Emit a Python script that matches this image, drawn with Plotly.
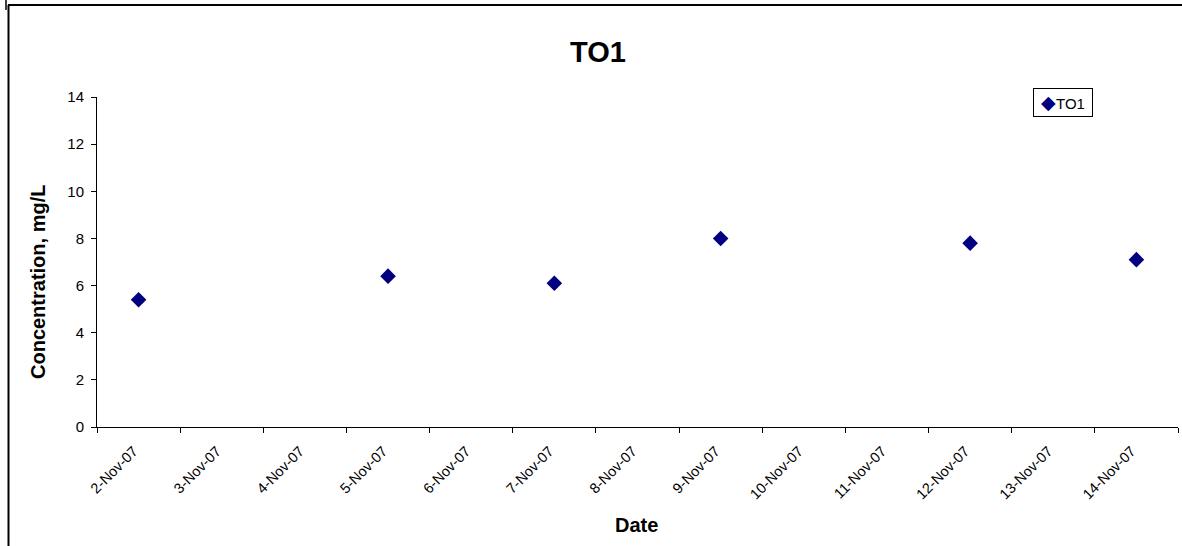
import plotly.graph_objects as go

categories = ["2-Nov-07", "3-Nov-07", "4-Nov-07", "5-Nov-07", "6-Nov-07", "7-Nov-07",
              "8-Nov-07", "9-Nov-07", "10-Nov-07", "11-Nov-07", "12-Nov-07",
              "13-Nov-07", "14-Nov-07"]
sample_dates = ["2-Nov-07", "5-Nov-07", "7-Nov-07", "9-Nov-07", "12-Nov-07", "14-Nov-07"]
to1_values = [5.4, 6.4, 6.1, 8.0, 7.8, 7.1]
y_ticks = [0, 2, 4, 6, 8, 10, 12, 14]

FONT = "Liberation Sans, Arial, sans-serif"
W, H = 1182, 546
L, R, T, B = 97, 1178, 97, 427

def px(x):
    return (x - L) / (R - L)

def py(y):
    return (B - y) / (B - T)

fig = go.Figure()
fig.add_trace(go.Scatter(
    x=sample_dates, y=to1_values, mode="markers", name="TO1",
    marker=dict(symbol="diamond", size=12, color="#000080",
                line=dict(width=0)),
    showlegend=False,
))

fig.update_layout(
    width=W, height=H,
    margin=dict(l=L, r=W - R, t=T, b=H - B, pad=0),
    paper_bgcolor="white", plot_bgcolor="white",
    font=dict(family=FONT, color="black", size=14),
    showlegend=False,
    xaxis=dict(type="category", categoryorder="array", categoryarray=categories,
               range=[-0.5, 12.5], tickson="boundaries", ticks="outside",
               ticklen=5, tickcolor="black", tickwidth=1,
               showline=True, linecolor="black", linewidth=1,
               showgrid=False, zeroline=False, tickangle=-45,
               ticklabelstandoff=9, ticklabelshift=-5,
               tickfont=dict(size=14.5, family=FONT, color="black")),
    yaxis=dict(range=[0, 14], tickvals=y_ticks, ticks="outside", ticklen=5,
               tickcolor="black", tickwidth=1, showline=True,
               linecolor="black", linewidth=1, showgrid=False,
               zeroline=False, ticklabelstandoff=4,
               tickfont=dict(size=15, family=FONT, color="black")),
    annotations=[
        dict(text="<b>TO1</b>", x=px(598), y=py(52), xref="paper", yref="paper",
             showarrow=False, font=dict(size=29, family=FONT),
             xanchor="center", yanchor="middle"),
        dict(text="<b>Date</b>", x=px(636.5), y=py(525), xref="paper", yref="paper",
             showarrow=False, font=dict(size=20, family=FONT),
             xanchor="center", yanchor="middle"),
        dict(text="<b>Concentration, mg/L</b>", x=px(38), y=py(282),
             xref="paper", yref="paper", showarrow=False, textangle=-90,
             font=dict(size=20, family=FONT), xanchor="center", yanchor="middle"),
        dict(text="<span style='color:#000080;font-size:19px'>◆</span>TO1",
             x=px(1033), y=py(88), xref="paper", yref="paper",
             showarrow=False, font=dict(size=15, family=FONT),
             xanchor="left", yanchor="top", bordercolor="black",
             borderwidth=1, borderpad=3, bgcolor="white", width=52),
    ],
    shapes=[
        dict(type="line", xref="paper", yref="paper", x0=px(8.5), x1=px(8.5),
             y0=py(5), y1=py(546), line=dict(color="black", width=2)),
        dict(type="line", xref="paper", yref="paper", x0=px(8), x1=px(1182),
             y0=py(5), y1=py(5), line=dict(color="black", width=2)),
        dict(type="line", xref="paper", yref="paper", x0=px(6), x1=px(6),
             y0=py(0), y1=py(10), line=dict(color="black", width=1.5)),
    ],
)

fig.write_html("out.html")
